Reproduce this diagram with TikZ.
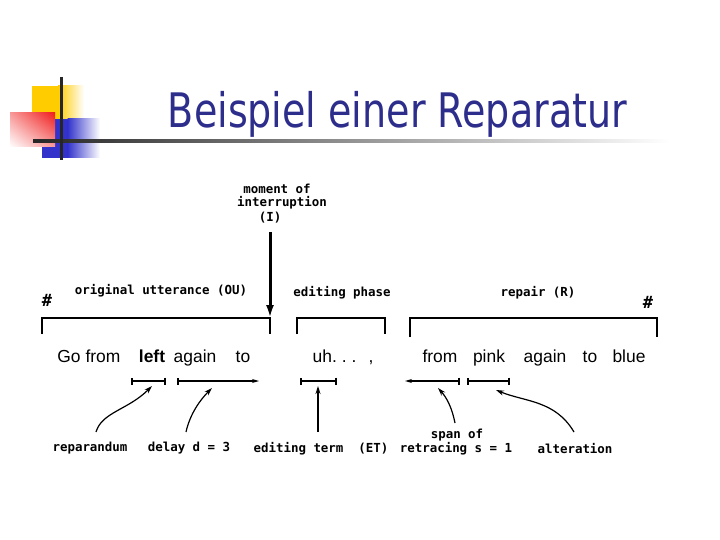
\documentclass[tikz,border=0pt]{standalone}
\usepackage{fontspec}
\setmainfont{Liberation Sans}
\newfontfamily\titlefont{DejaVu Sans}
\newfontfamily\monofont{DejaVu Sans Mono}
\usetikzlibrary{arrows.meta,shadings}
\definecolor{titleblue}{RGB}{45,45,140}
\definecolor{logoyellow}{RGB}{255,204,0}
\definecolor{logoblue}{RGB}{51,51,204}
\definecolor{logored}{RGB}{240,30,30}
\tikzset{tickbar/.tip={Bar[width=7bp,line width=1.6bp]},
  smallhead/.tip={Stealth[length=7bp,width=4bp]}}
\begin{document}
\begin{tikzpicture}[x=1bp,y=-1bp,
  mono/.style={font=\monofont\bfseries\fontsize{12.5}{14}\selectfont, inner sep=0},
  hashmark/.style={font=\monofont\bfseries\fontsize{17}{18}\selectfont, inner sep=0},
  word/.style={font=\fontsize{17.5}{20}\selectfont, anchor=base, inner sep=0},
  brk/.style={line width=2bp},
  spanline/.style={line width=1.5bp},
  ptr/.style={line width=1.2bp, -{Stealth[length=8bp,width=5bp]}}]
\useasboundingbox (0,0) rectangle (720,540);
\fill[white] (0,0) rectangle (720,540);
% logo
\fill[logoyellow] (32,86) rectangle (58,136);
\shade[left color=logoyellow, right color=white] (58,86) rectangle (84,136);
\fill[logoblue] (42,119) rectangle (68,158);
\shade[left color=logoblue, right color=white] (67.5,119) rectangle (100,158);
\shade[upper right=logored, upper left=logored!45!white, lower right=logored!45!white, lower left=white] (10,113) rectangle (55,147);
\shade[left color=black!85, right color=white] (33,139.5) rectangle (670,142.5);
\draw[line width=3bp, black!85] (61,77) -- (61,160);
% title
\node[titleblue, inner sep=0] (title) at (397.5,114) {\resizebox*{459bp}{46bp}{\titlefont Beispiel einer Reparatur}};
% moment of interruption
\node[mono] (m1) at (277,189) {moment of};
\node[mono] (m2) at (282,203) {interruption};
\node[mono] (m3) at (270,218) {(I)};
\coordinate (Itop) at (270,232);
\coordinate (Ibot) at (270,318);
\draw[line width=3bp, -{Latex[length=13bp,width=8bp]}] (Itop) -- (Ibot);
% segment labels
\node[hashmark] (h1) at (47,300) {\#};
\node[hashmark] (h2) at (648,302) {\#};
\node[mono] (ou) at (161,291) {original utterance (OU)};
\node[mono] (ep) at (342,293) {editing phase};
\node[mono] (rp) at (538,293) {repair (R)};
% brackets
\coordinate (b1a) at (42,334); \coordinate (b1b) at (42,318);
\coordinate (b1c) at (270,318); \coordinate (b1d) at (270,334);
\draw[brk] (b1a) -- (b1b) -- (b1c) -- (b1d);
\coordinate (b2a) at (297,334); \coordinate (b2b) at (297,318);
\coordinate (b2c) at (385,318); \coordinate (b2d) at (385,334);
\draw[brk] (b2a) -- (b2b) -- (b2c) -- (b2d);
\coordinate (b3a) at (410,337); \coordinate (b3b) at (410,318);
\coordinate (b3c) at (657,318); \coordinate (b3d) at (657,337);
\draw[brk] (b3a) -- (b3b) -- (b3c) -- (b3d);
% words
\node[word] (w1) at (69,362) {Go};
\node[word] (w2) at (103,362) {from};
\node[word] (w3) at (152,362) {\bfseries left};
\node[word] (w4) at (195,362) {again};
\node[word] (w5) at (243,362) {to};
\node[word] (w6) at (343,362) {uh.\hspace{5bp}.\hspace{5bp}.\hspace{12bp},};
\node[word] (w7) at (440,362) {from};
\node[word] (w8) at (489,362) {pink};
\node[word] (w9) at (545,362) {again};
\node[word] (w10) at (590,362) {to};
\node[word] (w11) at (629,362) {blue};
% spans
\coordinate (s1a) at (131,381); \coordinate (s1b) at (166,381);
\draw[spanline, tickbar-tickbar] (s1a) -- (s1b);
\coordinate (s2a) at (177,381); \coordinate (s2b) at (259,381);
\draw[spanline, tickbar-smallhead] (s2a) -- (s2b);
\coordinate (s3a) at (300,381); \coordinate (s3b) at (337,381);
\draw[spanline, tickbar-tickbar] (s3a) -- (s3b);
\coordinate (s4a) at (405,381); \coordinate (s4b) at (460,381);
\draw[spanline, smallhead-tickbar] (s4a) -- (s4b);
\coordinate (s5a) at (467,381); \coordinate (s5b) at (510,381);
\draw[spanline, tickbar-tickbar] (s5a) -- (s5b);
% bottom labels
\node[mono] (lrep) at (90,448) {reparandum};
\node[mono] (ldel) at (189,448) {delay d = 3};
\node[mono] (let) at (321,449) {editing term\ \ (ET)};
\node[mono] (lsp1) at (457,435) {span of};
\node[mono] (lsp2) at (456,449) {retracing s = 1};
\node[mono] (lalt) at (575,449) {alteration};
% pointers
\coordinate (p1a) at (96,432); \coordinate (p1b) at (152,386);
\draw[ptr] (p1a) .. controls (102,412) and (128,410) .. (p1b);
\coordinate (p2a) at (186,432); \coordinate (p2b) at (212,388);
\draw[ptr] (p2a) .. controls (190,414) and (200,400) .. (p2b);
\coordinate (p3a) at (318,432); \coordinate (p3b) at (318,386);
\draw[ptr] (p3a) -- (p3b);
\coordinate (p4a) at (455,423); \coordinate (p4b) at (438,388);
\draw[ptr] (p4a) .. controls (452,408) and (447,398) .. (p4b);
\coordinate (p5a) at (574,432); \coordinate (p5b) at (496,390);
\draw[ptr] (p5a) .. controls (555,400) and (525,402) .. (p5b);
\end{tikzpicture}
\end{document}
